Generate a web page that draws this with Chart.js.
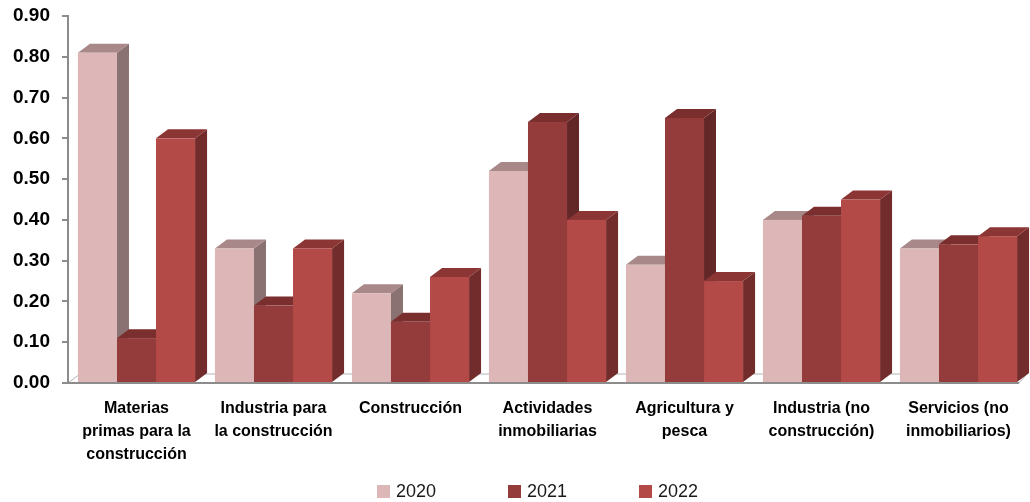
<!DOCTYPE html>
<html>
<head>
<meta charset="utf-8">
<script src="https://cdn.jsdelivr.net/npm/chart.js@4/dist/chart.umd.min.js"></script>
<style>
  html, body { margin: 0; padding: 0; background: #fff; }
  #wrap { width: 1030px; height: 502px; }
</style>
</head>
<body>
<div id="wrap"><canvas id="myChart"></canvas></div>
<script>
const categories = [
    ['Materias', 'primas para la', 'construcción'],
    ['Industria para', 'la construcción'],
    ['Construcción'],
    ['Actividades', 'inmobiliarias'],
    ['Agricultura y', 'pesca'],
    ['Industria (no', 'construcción)'],
    ['Servicios (no', 'inmobiliarios)']
];
const seriesNames = ['2020', '2021', '2022'];
const values2020 = [0.81, 0.33, 0.22, 0.52, 0.29, 0.40, 0.33];
const values2021 = [0.11, 0.19, 0.15, 0.64, 0.65, 0.41, 0.34];
const values2022 = [0.60, 0.33, 0.26, 0.40, 0.25, 0.45, 0.36];
const yTicks = [0, 0.1, 0.2, 0.3, 0.4, 0.5, 0.6, 0.7, 0.8, 0.9];

// depth of the fake 3d extrusion
const DX = 12, DY = 9;
const AXIS_GREY = '#8c8c8c';

const faces = [
    { front: '#ddb7b7', top: '#a88888', side: '#8b7272' },
    { front: '#943b3b', top: '#7a2e2e', side: '#632727' },
    { front: '#b34a47', top: '#8c3535', side: '#732c2c' }
];

// floor of the plot plus all bars, drawn back to front
const bars3d = {
    id: 'bars3d',
    beforeDatasetsDraw(chart) {
        const ctx = chart.ctx;
        const area = chart.chartArea;
        const yZero = chart.scales.y.getPixelForValue(0);

        ctx.save();
        ctx.fillStyle = '#fff';
        ctx.strokeStyle = '#b4b4b4';
        ctx.lineWidth = 1;
        ctx.beginPath();
        ctx.moveTo(area.left, yZero);
        ctx.lineTo(area.left + DX, yZero - DY);
        ctx.lineTo(area.right, yZero - DY);
        ctx.lineTo(area.right - DX + 4, yZero);
        ctx.closePath();
        ctx.fill();
        ctx.stroke();
        ctx.strokeStyle = AXIS_GREY;
        ctx.lineWidth = 2;
        ctx.beginPath();
        ctx.moveTo(area.left - 6, yZero);
        ctx.lineTo(area.right - DX + 4, yZero);
        ctx.stroke();

        // collect bars and sort by x so each front face hides the neighbour's side
        const list = [];
        chart.data.datasets.forEach((ds, di) => {
            chart.getDatasetMeta(di).data.forEach(el => list.push({ el, di }));
        });
        list.sort((a, b) => a.el.x - b.el.x);

        list.forEach(({ el, di }) => {
            const c = faces[di];
            const l = el.x - el.width / 2;
            const r = el.x + el.width / 2;
            const t = el.y;
            const b = el.base;

            ctx.fillStyle = c.side;
            ctx.beginPath();
            ctx.moveTo(r, t);
            ctx.lineTo(r + DX, t - DY);
            ctx.lineTo(r + DX, b - DY);
            ctx.lineTo(r, b);
            ctx.closePath();
            ctx.fill();

            ctx.fillStyle = c.top;
            ctx.beginPath();
            ctx.moveTo(l, t);
            ctx.lineTo(l + DX, t - DY);
            ctx.lineTo(r + DX, t - DY);
            ctx.lineTo(r, t);
            ctx.closePath();
            ctx.fill();

            ctx.fillStyle = c.front;
            ctx.fillRect(l, t, r - l, b - t);
        });
        ctx.restore();
        return false;
    }
};

// legend row under the category labels
const legendRow = {
    id: 'legendRow',
    afterDraw(chart) {
        const ctx = chart.ctx;
        const startX = 377, gap = 131, y = 491;
        ctx.save();
        ctx.font = '18px "Liberation Sans", Arial, sans-serif';
        ctx.textBaseline = 'middle';
        chart.data.datasets.forEach((ds, i) => {
            const x = startX + i * gap;
            ctx.fillStyle = ds.backgroundColor;
            ctx.fillRect(x, y - 6, 13, 13);
            ctx.fillStyle = '#1a1a1a';
            ctx.fillText(ds.label, x + 19, y + 1);
        });
        ctx.restore();
    }
};

const datasets = [values2020, values2021, values2022].map((vals, i) => ({
    label: seriesNames[i],
    data: vals,
    backgroundColor: faces[i].front,
    categoryPercentage: 0.855,
    barPercentage: 1.0
}));

const ctx = document.getElementById('myChart').getContext('2d');
new Chart(ctx, {
    type: 'bar',
    data: { labels: categories, datasets: datasets },
    plugins: [bars3d, legendRow],
    options: {
        responsive: true,
        maintainAspectRatio: false,
        animation: false,
        layout: { padding: { top: 16, right: 3, left: 0, bottom: 0 } },
        plugins: {
            legend: { display: false },
            tooltip: { enabled: false }
        },
        scales: {
            x: {
                grid: { display: false, drawTicks: false },
                border: { display: false },
                ticks: {
                    color: '#000',
                    padding: 14,
                    maxRotation: 0,
                    autoSkip: false,
                    font: { family: '"Liberation Sans", Arial, sans-serif', size: 16, weight: 'bold', lineHeight: 1.44 }
                },
                afterFit(scale) { scale.height = 119; }
            },
            y: {
                min: 0,
                max: 0.9,
                afterBuildTicks(scale) { scale.ticks = yTicks.map(v => ({ value: v })); },
                grid: { drawOnChartArea: false, drawTicks: true, tickLength: 6, color: AXIS_GREY, lineWidth: 2 },
                border: { display: true, color: AXIS_GREY, width: 2 },
                ticks: {
                    color: '#000',
                    padding: 12,
                    callback: v => v.toFixed(2),
                    font: { family: '"Liberation Sans", Arial, sans-serif', size: 19, weight: 'bold' }
                },
                afterFit(scale) {
                    scale.width = 68;
                    scale.paddingTop = 0;
                    scale.paddingBottom = 0;
                }
            }
        }
    }
});
</script>
</body>
</html>
